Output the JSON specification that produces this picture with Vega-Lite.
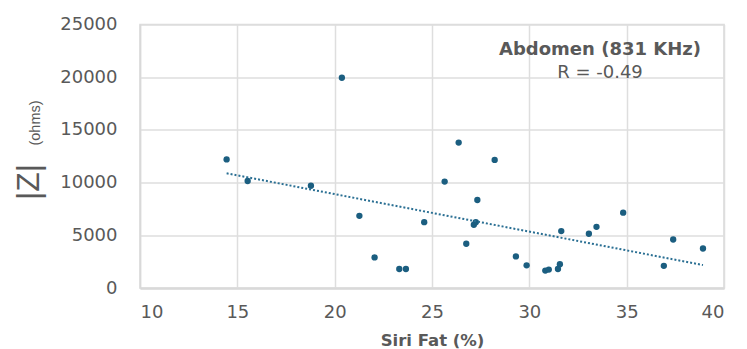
{
  "$schema": "https://vega.github.io/schema/vega-lite/v6.json",
  "width": 584,
  "height": 263.5,
  "autosize": {"type": "none"},
  "padding": {"left": 140, "top": 24.5, "right": 23, "bottom": 61},
  "background": "white",
  "title": {
    "text": "Abdomen (831 KHz)",
    "subtitle": "R = -0.49",
    "orient": "top",
    "anchor": "middle",
    "frame": "group",
    "dx": 168,
    "offset": -66,
    "font": "DejaVu Sans",
    "fontSize": 18,
    "fontWeight": "bold",
    "color": "#595959",
    "subtitleFont": "DejaVu Sans",
    "subtitleFontSize": 18,
    "subtitleColor": "#595959",
    "subtitlePadding": 5
  },
  "data": {
    "values": [
      {"fat": 14.45, "z": 12200},
      {"fat": 15.53, "z": 10150},
      {"fat": 18.78, "z": 9700},
      {"fat": 20.37, "z": 19950},
      {"fat": 21.27, "z": 6850},
      {"fat": 22.05, "z": 2900},
      {"fat": 23.32, "z": 1800},
      {"fat": 23.66, "z": 1800},
      {"fat": 24.6, "z": 6250},
      {"fat": 25.65, "z": 10100},
      {"fat": 26.37, "z": 13800},
      {"fat": 26.76, "z": 4200},
      {"fat": 27.15, "z": 6000},
      {"fat": 27.25, "z": 6250},
      {"fat": 27.33, "z": 8350},
      {"fat": 28.22, "z": 12150},
      {"fat": 29.31, "z": 3000},
      {"fat": 29.86, "z": 2150},
      {"fat": 30.82, "z": 1650},
      {"fat": 31.0, "z": 1750},
      {"fat": 31.47, "z": 1800},
      {"fat": 31.57, "z": 2250},
      {"fat": 31.64, "z": 5400},
      {"fat": 33.06, "z": 5150},
      {"fat": 33.45, "z": 5800},
      {"fat": 34.82, "z": 7150},
      {"fat": 36.91, "z": 2100},
      {"fat": 37.39, "z": 4600},
      {"fat": 38.92, "z": 3750}
    ]
  },
  "layer": [
    {
      "mark": {"type": "point", "filled": true, "size": 40, "opacity": 1, "color": "#1b5e80"},
      "encoding": {
        "x": {
          "field": "fat", "type": "quantitative",
          "scale": {"domain": [10, 40], "nice": false, "zero": false},
          "axis": {
            "values": [10, 15, 20, 25, 30, 35, 40],
            "title": "Siri Fat (%)",
            "titleFont": "DejaVu Sans", "titleFontSize": 16.5, "titleFontWeight": "bold", "titleColor": "#595959",
            "titleY": 57, "titleBaseline": "alphabetic",
            "labelFont": "DejaVu Sans", "labelFontSize": 18, "labelColor": "#595959",
            "labelPadding": 15, "ticks": false,
            "domainColor": "#d9d9d9", "domainWidth": 2,
            "grid": true, "gridColor": "#dedede", "gridWidth": 1.5
          }
        },
        "y": {
          "field": "z", "type": "quantitative",
          "scale": {"domain": [0, 25000], "nice": false},
          "axis": {
            "values": [0, 5000, 10000, 15000, 20000, 25000],
            "format": "d",
            "title": "|Z|",
            "titleFont": "Liberation Sans", "titleFontSize": 32, "titleFontWeight": "normal", "titleColor": "#595959",
            "titleX": -102, "titleY": 157, "titleBaseline": "alphabetic", "titleAngle": -90,
            "labelFont": "DejaVu Sans", "labelFontSize": 18, "labelColor": "#595959",
            "labelPadding": 23, "ticks": false,
            "domainColor": "#d9d9d9", "domainWidth": 1.5,
            "grid": true, "gridColor": "#dedede", "gridWidth": 1.5
          }
        }
      }
    },
    {
      "transform": [{"regression": "z", "on": "fat", "extent": [14.45, 38.92]}],
      "mark": {"type": "line", "strokeDash": [2, 2], "strokeWidth": 2, "color": "#2a6f93"},
      "encoding": {
        "x": {"field": "fat", "type": "quantitative"},
        "y": {
          "field": "z", "type": "quantitative",
          "axis": {
            "orient": "left",
            "title": "(ohms)",
            "labels": false, "ticks": false, "domain": false, "grid": false,
            "titleFont": "Liberation Sans", "titleFontSize": 14.5, "titleFontWeight": "normal", "titleColor": "#595959",
            "titleX": -101, "titleY": 98, "titleBaseline": "alphabetic", "titleAngle": -90
          }
        }
      }
    }
  ],
  "resolve": {"axis": {"y": "independent"}},
  "config": {
    "view": {"stroke": "#d9d9d9", "strokeWidth": 1.5}
  }
}
